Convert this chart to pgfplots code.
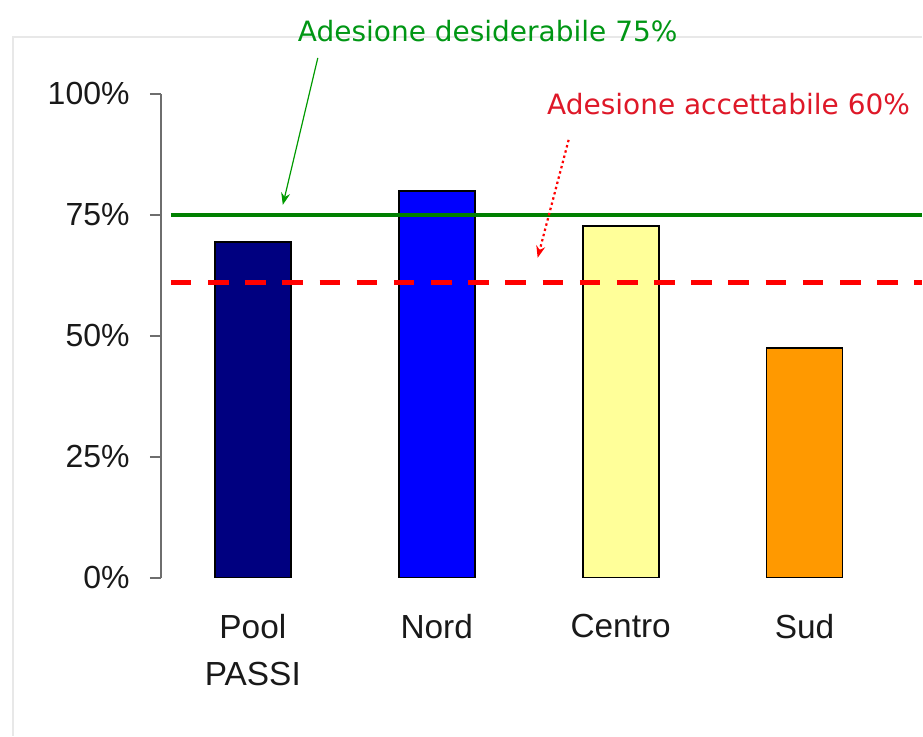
\documentclass[border=0pt]{standalone}
\usepackage{fontspec}
\setmainfont{Liberation Sans}
\newfontfamily\verd{DejaVu Sans}
\usepackage{pgfplots}
\pgfplotsset{compat=1.18}
\usetikzlibrary{arrows.meta}
\definecolor{navybar}{RGB}{0,0,128}
\definecolor{bluebar}{RGB}{0,0,255}
\definecolor{yellowbar}{RGB}{255,255,153}
\definecolor{orangebar}{RGB}{255,153,0}
\definecolor{greenline}{RGB}{0,128,0}
\definecolor{greentext}{RGB}{0,150,20}
\definecolor{redline}{RGB}{255,0,0}
\definecolor{redtext}{RGB}{222,24,40}
\definecolor{axisgray}{RGB}{110,110,110}
\definecolor{labelgray}{RGB}{25,25,25}
\begin{document}
\begin{tikzpicture}
\begin{scope}[x=0.5pt, y=-0.5pt, shift={(-80.5pt,289.15pt)}]
  \path (0,0) rectangle (923,736);
  \draw[gray!18, line width=0.6pt] (13,736) -- (13,37) -- (923,37);
\end{scope}
\begin{axis}[
  at={(0,0)}, anchor=south west,
  scale only axis, width=381pt, height=242.15pt,
  xmin=-0.5, xmax=3.641, ymin=0, ymax=100,
  axis lines*=left,
  x axis line style={draw=none},
  y axis line style={draw=axisgray, line width=1pt},
  xtick={0,1,2,3}, xticklabels={{Pool\\PASSI},Nord,Centro,Sud},
  ytick={0,25,50,75,100}, yticklabels={0\%,25\%,50\%,75\%,100\%},
  tick align=outside, major tick length=5.5pt,
  xtick style={draw=none},
  ytick style={draw=axisgray, line width=1pt},
  yticklabel style={font=\fontsize{16}{19}\selectfont, text=labelgray, inner sep=0pt, xshift=-10pt},
  xticklabel style={font=\fontsize{16.7}{23.5}\selectfont, text=labelgray, align=center, anchor=north, inner sep=0pt, yshift=-12.5pt},
  clip=true,
]
\addplot[ybar, bar width=38pt, bar shift=0pt, fill=navybar, draw=black, line width=0.9pt] coordinates {(0,69.4)};
\addplot[ybar, bar width=38pt, bar shift=0pt, fill=bluebar, draw=black, line width=0.9pt] coordinates {(1,80)};
\addplot[ybar, bar width=38pt, bar shift=0pt, fill=yellowbar, draw=black, line width=0.9pt] coordinates {(2,72.7)};
\addplot[ybar, bar width=38pt, bar shift=0pt, fill=orangebar, draw=black, line width=0.9pt] coordinates {(3,47.5)};
\addplot[greenline, line width=2pt] coordinates {(-0.446,75) (3.641,75)};
\addplot[redline, line width=2.2pt, dash pattern=on 10.3pt off 8.3pt] coordinates {(-0.446,61) (3.641,61)};
\end{axis}
\begin{scope}[x=0.5pt, y=-0.5pt, shift={(-80.5pt,289.15pt)}]
  \node[anchor=base, text=greentext, inner sep=0pt, font=\verd\fontsize{14}{16}\selectfont] at (488,42) {Adesione desiderabile 75\%};
  \draw[greenline!80!green, line width=0.6pt, -{Stealth[length=6pt,width=4.5pt]}] (318,58) -- (283,205);
  \node[anchor=base, text=redtext, inner sep=0pt, font=\verd\fontsize{14}{16}\selectfont] at (729,115) {Adesione accettabile 60\%};
  \draw[redline, line width=1.1pt, dash pattern=on 1.2pt off 1.5pt, -{Stealth[length=6pt,width=4.5pt]}] (569,140) -- (538,258);
\end{scope}
\end{tikzpicture}
\end{document}
